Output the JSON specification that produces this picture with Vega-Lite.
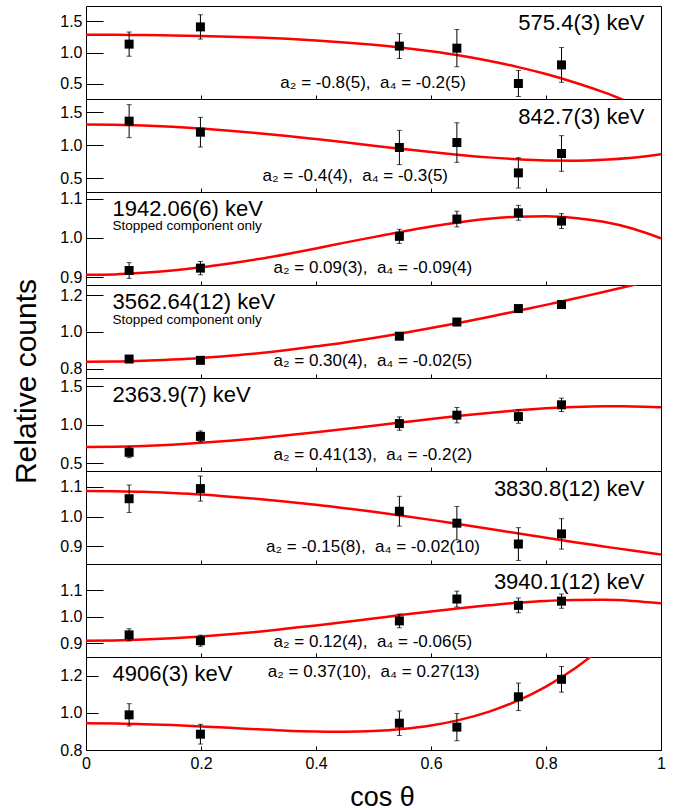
{
  "$schema": "https://vega.github.io/schema/vega-lite/v6.json",
  "background": "white",
  "padding": {"left": 10, "top": 5, "right": 5, "bottom": 5},
  "spacing": 0,
  "bounds": "flush",
  "resolve": {"scale": {"x": "independent", "y": "independent"}},
  "config": {
    "view": {"stroke": "black", "strokeWidth": 1},
    "font": "Liberation Sans",
    "text": {"font": "Liberation Sans", "color": "black"},
    "axis": {
      "domain": false, "grid": false,
      "labelFont": "Liberation Sans", "labelFontSize": 16, "labelColor": "black",
      "labelFlush": false, "labelOverlap": false,
      "tickColor": "black", "tickWidth": 1,
      "titleFont": "Liberation Sans", "titleFontWeight": "normal", "titleColor": "black"
    }
  },
  "datasets": {
    "points": [
      {"panel": 1, "cos": 0.075, "val": 1.135, "err": 0.195},
      {"panel": 1, "cos": 0.199, "val": 1.413, "err": 0.196},
      {"panel": 1, "cos": 0.545, "val": 1.103, "err": 0.2},
      {"panel": 1, "cos": 0.645, "val": 1.07, "err": 0.3},
      {"panel": 1, "cos": 0.752, "val": 0.5, "err": 0.21},
      {"panel": 1, "cos": 0.827, "val": 0.8, "err": 0.28},
      {"panel": 2, "cos": 0.075, "val": 1.364, "err": 0.25},
      {"panel": 2, "cos": 0.199, "val": 1.197, "err": 0.225},
      {"panel": 2, "cos": 0.545, "val": 0.965, "err": 0.26},
      {"panel": 2, "cos": 0.645, "val": 1.04, "err": 0.3},
      {"panel": 2, "cos": 0.752, "val": 0.58, "err": 0.23},
      {"panel": 2, "cos": 0.827, "val": 0.874, "err": 0.27},
      {"panel": 3, "cos": 0.075, "val": 0.917, "err": 0.02},
      {"panel": 3, "cos": 0.199, "val": 0.923, "err": 0.017},
      {"panel": 3, "cos": 0.545, "val": 1.004, "err": 0.018},
      {"panel": 3, "cos": 0.645, "val": 1.048, "err": 0.02},
      {"panel": 3, "cos": 0.752, "val": 1.064, "err": 0.019},
      {"panel": 3, "cos": 0.827, "val": 1.043, "err": 0.019},
      {"panel": 4, "cos": 0.075, "val": 0.853, "err": 0.01},
      {"panel": 4, "cos": 0.199, "val": 0.846, "err": 0.01},
      {"panel": 4, "cos": 0.545, "val": 0.977, "err": 0.012},
      {"panel": 4, "cos": 0.645, "val": 1.054, "err": 0.018},
      {"panel": 4, "cos": 0.752, "val": 1.127, "err": 0.018},
      {"panel": 4, "cos": 0.827, "val": 1.149, "err": 0.016},
      {"panel": 5, "cos": 0.075, "val": 0.643, "err": 0.07},
      {"panel": 5, "cos": 0.199, "val": 0.851, "err": 0.07},
      {"panel": 5, "cos": 0.545, "val": 1.017, "err": 0.087},
      {"panel": 5, "cos": 0.645, "val": 1.126, "err": 0.1},
      {"panel": 5, "cos": 0.752, "val": 1.108, "err": 0.087},
      {"panel": 5, "cos": 0.827, "val": 1.261, "err": 0.087},
      {"panel": 6, "cos": 0.075, "val": 1.06, "err": 0.046},
      {"panel": 6, "cos": 0.199, "val": 1.094, "err": 0.042},
      {"panel": 6, "cos": 0.545, "val": 1.018, "err": 0.05},
      {"panel": 6, "cos": 0.645, "val": 0.978, "err": 0.056},
      {"panel": 6, "cos": 0.752, "val": 0.908, "err": 0.055},
      {"panel": 6, "cos": 0.827, "val": 0.942, "err": 0.051},
      {"panel": 7, "cos": 0.075, "val": 0.931, "err": 0.023},
      {"panel": 7, "cos": 0.199, "val": 0.909, "err": 0.021},
      {"panel": 7, "cos": 0.545, "val": 0.984, "err": 0.026},
      {"panel": 7, "cos": 0.645, "val": 1.067, "err": 0.03},
      {"panel": 7, "cos": 0.752, "val": 1.043, "err": 0.028},
      {"panel": 7, "cos": 0.827, "val": 1.059, "err": 0.027},
      {"panel": 8, "cos": 0.075, "val": 0.989, "err": 0.06},
      {"panel": 8, "cos": 0.199, "val": 0.885, "err": 0.053},
      {"panel": 8, "cos": 0.545, "val": 0.944, "err": 0.066},
      {"panel": 8, "cos": 0.645, "val": 0.923, "err": 0.073},
      {"panel": 8, "cos": 0.752, "val": 1.086, "err": 0.074},
      {"panel": 8, "cos": 0.827, "val": 1.18, "err": 0.069}
    ],
    "fits": [
      {"panel": 1, "cos": 0.0, "val": 1.287}, {"panel": 1, "cos": 0.05, "val": 1.285}, {"panel": 1, "cos": 0.1, "val": 1.282},
      {"panel": 1, "cos": 0.15, "val": 1.276}, {"panel": 1, "cos": 0.2, "val": 1.268}, {"panel": 1, "cos": 0.25, "val": 1.256},
      {"panel": 1, "cos": 0.3, "val": 1.24}, {"panel": 1, "cos": 0.35, "val": 1.22}, {"panel": 1, "cos": 0.4, "val": 1.195},
      {"panel": 1, "cos": 0.45, "val": 1.163}, {"panel": 1, "cos": 0.5, "val": 1.124}, {"panel": 1, "cos": 0.55, "val": 1.077},
      {"panel": 1, "cos": 0.6, "val": 1.019}, {"panel": 1, "cos": 0.65, "val": 0.95}, {"panel": 1, "cos": 0.7, "val": 0.866},
      {"panel": 1, "cos": 0.75, "val": 0.768}, {"panel": 1, "cos": 0.8, "val": 0.652}, {"panel": 1, "cos": 0.85, "val": 0.516},
      {"panel": 1, "cos": 0.9, "val": 0.36}, {"panel": 1, "cos": 0.95, "val": 0.18}, {"panel": 1, "cos": 1.0, "val": 0.0},
      {"panel": 2, "cos": 0.0, "val": 1.313}, {"panel": 2, "cos": 0.05, "val": 1.309}, {"panel": 2, "cos": 0.1, "val": 1.298},
      {"panel": 2, "cos": 0.15, "val": 1.279}, {"panel": 2, "cos": 0.2, "val": 1.253}, {"panel": 2, "cos": 0.25, "val": 1.22},
      {"panel": 2, "cos": 0.3, "val": 1.182}, {"panel": 2, "cos": 0.35, "val": 1.139}, {"panel": 2, "cos": 0.4, "val": 1.092},
      {"panel": 2, "cos": 0.45, "val": 1.043}, {"panel": 2, "cos": 0.5, "val": 0.992}, {"panel": 2, "cos": 0.55, "val": 0.943},
      {"panel": 2, "cos": 0.6, "val": 0.895}, {"panel": 2, "cos": 0.65, "val": 0.852}, {"panel": 2, "cos": 0.7, "val": 0.815},
      {"panel": 2, "cos": 0.75, "val": 0.787}, {"panel": 2, "cos": 0.8, "val": 0.769}, {"panel": 2, "cos": 0.85, "val": 0.765},
      {"panel": 2, "cos": 0.9, "val": 0.778}, {"panel": 2, "cos": 0.95, "val": 0.809}, {"panel": 2, "cos": 1.0, "val": 0.863},
      {"panel": 3, "cos": 0.0, "val": 0.906}, {"panel": 3, "cos": 0.05, "val": 0.907}, {"panel": 3, "cos": 0.1, "val": 0.911},
      {"panel": 3, "cos": 0.15, "val": 0.917}, {"panel": 3, "cos": 0.2, "val": 0.925}, {"panel": 3, "cos": 0.25, "val": 0.935},
      {"panel": 3, "cos": 0.3, "val": 0.946}, {"panel": 3, "cos": 0.35, "val": 0.959}, {"panel": 3, "cos": 0.4, "val": 0.973},
      {"panel": 3, "cos": 0.45, "val": 0.988}, {"panel": 3, "cos": 0.5, "val": 1.002}, {"panel": 3, "cos": 0.55, "val": 1.016},
      {"panel": 3, "cos": 0.6, "val": 1.029}, {"panel": 3, "cos": 0.65, "val": 1.04}, {"panel": 3, "cos": 0.7, "val": 1.049},
      {"panel": 3, "cos": 0.75, "val": 1.054}, {"panel": 3, "cos": 0.8, "val": 1.055}, {"panel": 3, "cos": 0.85, "val": 1.051},
      {"panel": 3, "cos": 0.9, "val": 1.041}, {"panel": 3, "cos": 0.95, "val": 1.024}, {"panel": 3, "cos": 1.0, "val": 0.999},
      {"panel": 4, "cos": 0.0, "val": 0.838}, {"panel": 4, "cos": 0.05, "val": 0.839}, {"panel": 4, "cos": 0.1, "val": 0.843},
      {"panel": 4, "cos": 0.15, "val": 0.85}, {"panel": 4, "cos": 0.2, "val": 0.859}, {"panel": 4, "cos": 0.25, "val": 0.871},
      {"panel": 4, "cos": 0.3, "val": 0.885}, {"panel": 4, "cos": 0.35, "val": 0.902}, {"panel": 4, "cos": 0.4, "val": 0.922},
      {"panel": 4, "cos": 0.45, "val": 0.943}, {"panel": 4, "cos": 0.5, "val": 0.967}, {"panel": 4, "cos": 0.55, "val": 0.993},
      {"panel": 4, "cos": 0.6, "val": 1.021}, {"panel": 4, "cos": 0.65, "val": 1.05}, {"panel": 4, "cos": 0.7, "val": 1.081},
      {"panel": 4, "cos": 0.75, "val": 1.114}, {"panel": 4, "cos": 0.8, "val": 1.147}, {"panel": 4, "cos": 0.85, "val": 1.182},
      {"panel": 4, "cos": 0.9, "val": 1.217}, {"panel": 4, "cos": 0.95, "val": 1.254}, {"panel": 4, "cos": 1.0, "val": 1.29},
      {"panel": 5, "cos": 0.0, "val": 0.713}, {"panel": 5, "cos": 0.05, "val": 0.716}, {"panel": 5, "cos": 0.1, "val": 0.726},
      {"panel": 5, "cos": 0.15, "val": 0.743}, {"panel": 5, "cos": 0.2, "val": 0.766}, {"panel": 5, "cos": 0.25, "val": 0.794},
      {"panel": 5, "cos": 0.3, "val": 0.827}, {"panel": 5, "cos": 0.35, "val": 0.865}, {"panel": 5, "cos": 0.4, "val": 0.905},
      {"panel": 5, "cos": 0.45, "val": 0.947}, {"panel": 5, "cos": 0.5, "val": 0.99}, {"panel": 5, "cos": 0.55, "val": 1.033},
      {"panel": 5, "cos": 0.6, "val": 1.077}, {"panel": 5, "cos": 0.65, "val": 1.118}, {"panel": 5, "cos": 0.7, "val": 1.156},
      {"panel": 5, "cos": 0.75, "val": 1.189}, {"panel": 5, "cos": 0.8, "val": 1.215}, {"panel": 5, "cos": 0.85, "val": 1.233},
      {"panel": 5, "cos": 0.9, "val": 1.242}, {"panel": 5, "cos": 0.95, "val": 1.24}, {"panel": 5, "cos": 1.0, "val": 1.228},
      {"panel": 6, "cos": 0.0, "val": 1.086}, {"panel": 6, "cos": 0.05, "val": 1.085}, {"panel": 6, "cos": 0.1, "val": 1.083},
      {"panel": 6, "cos": 0.15, "val": 1.079}, {"panel": 6, "cos": 0.2, "val": 1.074}, {"panel": 6, "cos": 0.25, "val": 1.067},
      {"panel": 6, "cos": 0.3, "val": 1.059}, {"panel": 6, "cos": 0.35, "val": 1.05}, {"panel": 6, "cos": 0.4, "val": 1.04},
      {"panel": 6, "cos": 0.45, "val": 1.028}, {"panel": 6, "cos": 0.5, "val": 1.016}, {"panel": 6, "cos": 0.55, "val": 1.003},
      {"panel": 6, "cos": 0.6, "val": 0.989}, {"panel": 6, "cos": 0.65, "val": 0.974}, {"panel": 6, "cos": 0.7, "val": 0.959},
      {"panel": 6, "cos": 0.75, "val": 0.944}, {"panel": 6, "cos": 0.8, "val": 0.929}, {"panel": 6, "cos": 0.85, "val": 0.914},
      {"panel": 6, "cos": 0.9, "val": 0.9}, {"panel": 6, "cos": 0.95, "val": 0.886}, {"panel": 6, "cos": 1.0, "val": 0.873},
      {"panel": 7, "cos": 0.0, "val": 0.909}, {"panel": 7, "cos": 0.05, "val": 0.91}, {"panel": 7, "cos": 0.1, "val": 0.913},
      {"panel": 7, "cos": 0.15, "val": 0.918}, {"panel": 7, "cos": 0.2, "val": 0.925}, {"panel": 7, "cos": 0.25, "val": 0.933},
      {"panel": 7, "cos": 0.3, "val": 0.943}, {"panel": 7, "cos": 0.35, "val": 0.955}, {"panel": 7, "cos": 0.4, "val": 0.967},
      {"panel": 7, "cos": 0.45, "val": 0.98}, {"panel": 7, "cos": 0.5, "val": 0.993}, {"panel": 7, "cos": 0.55, "val": 1.007},
      {"panel": 7, "cos": 0.6, "val": 1.02}, {"panel": 7, "cos": 0.65, "val": 1.032}, {"panel": 7, "cos": 0.7, "val": 1.043},
      {"panel": 7, "cos": 0.75, "val": 1.053}, {"panel": 7, "cos": 0.8, "val": 1.06}, {"panel": 7, "cos": 0.85, "val": 1.063},
      {"panel": 7, "cos": 0.9, "val": 1.064}, {"panel": 7, "cos": 0.95, "val": 1.06}, {"panel": 7, "cos": 1.0, "val": 1.051},
      {"panel": 8, "cos": 0.0, "val": 0.944}, {"panel": 8, "cos": 0.05, "val": 0.943}, {"panel": 8, "cos": 0.1, "val": 0.939},
      {"panel": 8, "cos": 0.15, "val": 0.934}, {"panel": 8, "cos": 0.2, "val": 0.927}, {"panel": 8, "cos": 0.25, "val": 0.919},
      {"panel": 8, "cos": 0.3, "val": 0.911}, {"panel": 8, "cos": 0.35, "val": 0.904}, {"panel": 8, "cos": 0.4, "val": 0.9},
      {"panel": 8, "cos": 0.45, "val": 0.898}, {"panel": 8, "cos": 0.5, "val": 0.902}, {"panel": 8, "cos": 0.55, "val": 0.913},
      {"panel": 8, "cos": 0.6, "val": 0.932}, {"panel": 8, "cos": 0.65, "val": 0.962}, {"panel": 8, "cos": 0.7, "val": 1.005},
      {"panel": 8, "cos": 0.75, "val": 1.064}, {"panel": 8, "cos": 0.8, "val": 1.141}, {"panel": 8, "cos": 0.85, "val": 1.238},
      {"panel": 8, "cos": 0.9, "val": 1.36}, {"panel": 8, "cos": 0.95, "val": 1.51}, {"panel": 8, "cos": 1.0, "val": 1.689}
    ]
  },
  "vconcat": [
    {
      "width": 575, "height": 93,
      "layer": [
        {"data": {"name": "fits"}, "transform": [{"filter": "datum.panel == 1"}],
         "mark": {"type": "line", "color": "#ff0000", "strokeWidth": 2.5, "clip": true, "interpolate": "monotone"},
         "encoding": {
           "x": {"field": "cos", "type": "quantitative", "title": null, "scale": {"domain": [0, 1], "nice": false},
                 "axis": {"values": [0, 0.2, 0.4, 0.6, 0.8, 1], "labels": false, "tickSize": -4}},
           "y": {"field": "val", "type": "quantitative", "title": null, "scale": {"domain": [0.25, 1.75], "nice": false, "zero": false},
                 "axis": {"values": [0.5, 1, 1.5], "format": ".1f", "tickSize": -17, "labelPadding": 21}}}},
        {"data": {"name": "points"}, "transform": [{"filter": "datum.panel == 1"}],
         "mark": {"type": "errorbar", "color": "black", "thickness": 1, "ticks": {"size": 5, "thickness": 1, "color": "black"}},
         "encoding": {"x": {"field": "cos", "type": "quantitative", "title": null}, "y": {"field": "val", "type": "quantitative", "title": null}, "yError": {"field": "err"}}},
        {"data": {"name": "points"}, "transform": [{"filter": "datum.panel == 1"}],
         "mark": {"type": "square", "size": 81, "color": "black", "opacity": 1},
         "encoding": {"x": {"field": "cos", "type": "quantitative", "title": null}, "y": {"field": "val", "type": "quantitative", "title": null}}},
        {"data": {"values": [{}]},
         "mark": {"type": "text", "fontSize": 22, "align": "right", "baseline": "alphabetic"},
         "encoding": {"x": {"datum": 0.971}, "y": {"datum": 1.369}, "text": {"value": "575.4(3) keV"}}},
        {"data": {"values": [{}]},
         "mark": {"type": "text", "fontSize": 17, "align": "left", "baseline": "alphabetic"},
         "encoding": {"x": {"datum": 0.338}, "y": {"datum": 0.431}, "text": {"value": "a₂ = -0.8(5),\u00a0 a₄ = -0.2(5)"}}}
      ]
    },
    {
      "width": 575, "height": 93,
      "layer": [
        {"data": {"name": "fits"}, "transform": [{"filter": "datum.panel == 2"}],
         "mark": {"type": "line", "color": "#ff0000", "strokeWidth": 2.5, "clip": true, "interpolate": "monotone"},
         "encoding": {
           "x": {"field": "cos", "type": "quantitative", "title": null, "scale": {"domain": [0, 1], "nice": false},
                 "axis": {"values": [0, 0.2, 0.4, 0.6, 0.8, 1], "labels": false, "tickSize": -4}},
           "y": {"field": "val", "type": "quantitative", "title": null, "scale": {"domain": [0.29, 1.70], "nice": false, "zero": false},
                 "axis": {"values": [0.5, 1, 1.5], "format": ".1f", "tickSize": -17, "labelPadding": 21}}}},
        {"data": {"name": "points"}, "transform": [{"filter": "datum.panel == 2"}],
         "mark": {"type": "errorbar", "color": "black", "thickness": 1, "ticks": {"size": 5, "thickness": 1, "color": "black"}},
         "encoding": {"x": {"field": "cos", "type": "quantitative", "title": null}, "y": {"field": "val", "type": "quantitative", "title": null}, "yError": {"field": "err"}}},
        {"data": {"name": "points"}, "transform": [{"filter": "datum.panel == 2"}],
         "mark": {"type": "square", "size": 81, "color": "black", "opacity": 1},
         "encoding": {"x": {"field": "cos", "type": "quantitative", "title": null}, "y": {"field": "val", "type": "quantitative", "title": null}}},
        {"data": {"values": [{}]},
         "mark": {"type": "text", "fontSize": 22, "align": "right", "baseline": "alphabetic"},
         "encoding": {"x": {"datum": 0.971}, "y": {"datum": 1.32}, "text": {"value": "842.7(3) keV"}}},
        {"data": {"values": [{}]},
         "mark": {"type": "text", "fontSize": 17, "align": "left", "baseline": "alphabetic"},
         "encoding": {"x": {"datum": 0.307}, "y": {"datum": 0.459}, "text": {"value": "a₂ = -0.4(4),\u00a0 a₄ = -0.3(5)"}}}
      ]
    },
    {
      "width": 575, "height": 93,
      "layer": [
        {"data": {"name": "fits"}, "transform": [{"filter": "datum.panel == 3"}],
         "mark": {"type": "line", "color": "#ff0000", "strokeWidth": 2.5, "clip": true, "interpolate": "monotone"},
         "encoding": {
           "x": {"field": "cos", "type": "quantitative", "title": null, "scale": {"domain": [0, 1], "nice": false},
                 "axis": {"values": [0, 0.2, 0.4, 0.6, 0.8, 1], "labels": false, "tickSize": -4}},
           "y": {"field": "val", "type": "quantitative", "title": null, "scale": {"domain": [0.88, 1.117], "nice": false, "zero": false},
                 "axis": {"values": [0.9, 1, 1.1], "format": ".1f", "tickSize": -17, "labelPadding": 21}}}},
        {"data": {"name": "points"}, "transform": [{"filter": "datum.panel == 3"}],
         "mark": {"type": "errorbar", "color": "black", "thickness": 1, "ticks": {"size": 5, "thickness": 1, "color": "black"}},
         "encoding": {"x": {"field": "cos", "type": "quantitative", "title": null}, "y": {"field": "val", "type": "quantitative", "title": null}, "yError": {"field": "err"}}},
        {"data": {"name": "points"}, "transform": [{"filter": "datum.panel == 3"}],
         "mark": {"type": "square", "size": 81, "color": "black", "opacity": 1},
         "encoding": {"x": {"field": "cos", "type": "quantitative", "title": null}, "y": {"field": "val", "type": "quantitative", "title": null}}},
        {"data": {"values": [{}]},
         "mark": {"type": "text", "fontSize": 22, "align": "left", "baseline": "alphabetic"},
         "encoding": {"x": {"datum": 0.046}, "y": {"datum": 1.055}, "text": {"value": "1942.06(6) keV"}}},
        {"data": {"values": [{}]},
         "mark": {"type": "text", "fontSize": 13.5, "align": "left", "baseline": "alphabetic"},
         "encoding": {"x": {"datum": 0.046}, "y": {"datum": 1.019}, "text": {"value": "Stopped component only"}}},
        {"data": {"values": [{}]},
         "mark": {"type": "text", "fontSize": 17, "align": "left", "baseline": "alphabetic"},
         "encoding": {"x": {"datum": 0.326}, "y": {"datum": 0.911}, "text": {"value": "a₂ = 0.09(3),\u00a0 a₄ = -0.09(4)"}}}
      ]
    },
    {
      "width": 575, "height": 93,
      "layer": [
        {"data": {"name": "fits"}, "transform": [{"filter": "datum.panel == 4"}],
         "mark": {"type": "line", "color": "#ff0000", "strokeWidth": 2.5, "clip": true, "interpolate": "monotone"},
         "encoding": {
           "x": {"field": "cos", "type": "quantitative", "title": null, "scale": {"domain": [0, 1], "nice": false},
                 "axis": {"values": [0, 0.2, 0.4, 0.6, 0.8, 1], "labels": false, "tickSize": -4}},
           "y": {"field": "val", "type": "quantitative", "title": "Relative counts", "scale": {"domain": [0.75, 1.255], "nice": false, "zero": false},
                 "axis": {"values": [0.8, 1, 1.2], "format": ".1f", "tickSize": -17, "labelPadding": 21,
                          "titleFontSize": 30, "titleX": -51, "titleY": 96,
                          "titleAngle": 270, "titleAlign": "center", "titleBaseline": "alphabetic"}}}},
        {"data": {"name": "points"}, "transform": [{"filter": "datum.panel == 4"}],
         "mark": {"type": "errorbar", "color": "black", "thickness": 1, "ticks": {"size": 5, "thickness": 1, "color": "black"}},
         "encoding": {"x": {"field": "cos", "type": "quantitative", "title": null}, "y": {"field": "val", "type": "quantitative", "title": "Relative counts"}, "yError": {"field": "err"}}},
        {"data": {"name": "points"}, "transform": [{"filter": "datum.panel == 4"}],
         "mark": {"type": "square", "size": 81, "color": "black", "opacity": 1},
         "encoding": {"x": {"field": "cos", "type": "quantitative", "title": null}, "y": {"field": "val", "type": "quantitative", "title": "Relative counts"}}},
        {"data": {"values": [{}]},
         "mark": {"type": "text", "fontSize": 22, "align": "left", "baseline": "alphabetic"},
         "encoding": {"x": {"datum": 0.046}, "y": {"datum": 1.126}, "text": {"value": "3562.64(12) keV"}}},
        {"data": {"values": [{}]},
         "mark": {"type": "text", "fontSize": 13.5, "align": "left", "baseline": "alphabetic"},
         "encoding": {"x": {"datum": 0.046}, "y": {"datum": 1.041}, "text": {"value": "Stopped component only"}}},
        {"data": {"values": [{}]},
         "mark": {"type": "text", "fontSize": 17, "align": "left", "baseline": "alphabetic"},
         "encoding": {"x": {"datum": 0.326}, "y": {"datum": 0.814}, "text": {"value": "a₂ = 0.30(4),\u00a0 a₄ = -0.02(5)"}}}
      ]
    },
    {
      "width": 575, "height": 93,
      "layer": [
        {"data": {"name": "fits"}, "transform": [{"filter": "datum.panel == 5"}],
         "mark": {"type": "line", "color": "#ff0000", "strokeWidth": 2.5, "clip": true, "interpolate": "monotone"},
         "encoding": {
           "x": {"field": "cos", "type": "quantitative", "title": null, "scale": {"domain": [0, 1], "nice": false},
                 "axis": {"values": [0, 0.2, 0.4, 0.6, 0.8, 1], "labels": false, "tickSize": -4}},
           "y": {"field": "val", "type": "quantitative", "title": null, "scale": {"domain": [0.40, 1.61], "nice": false, "zero": false},
                 "axis": {"values": [0.5, 1, 1.5], "format": ".1f", "tickSize": -17, "labelPadding": 21}}}},
        {"data": {"name": "points"}, "transform": [{"filter": "datum.panel == 5"}],
         "mark": {"type": "errorbar", "color": "black", "thickness": 1, "ticks": {"size": 5, "thickness": 1, "color": "black"}},
         "encoding": {"x": {"field": "cos", "type": "quantitative", "title": null}, "y": {"field": "val", "type": "quantitative", "title": null}, "yError": {"field": "err"}}},
        {"data": {"name": "points"}, "transform": [{"filter": "datum.panel == 5"}],
         "mark": {"type": "square", "size": 81, "color": "black", "opacity": 1},
         "encoding": {"x": {"field": "cos", "type": "quantitative", "title": null}, "y": {"field": "val", "type": "quantitative", "title": null}}},
        {"data": {"values": [{}]},
         "mark": {"type": "text", "fontSize": 22, "align": "left", "baseline": "alphabetic"},
         "encoding": {"x": {"datum": 0.046}, "y": {"datum": 1.297}, "text": {"value": "2363.9(7) keV"}}},
        {"data": {"values": [{}]},
         "mark": {"type": "text", "fontSize": 17, "align": "left", "baseline": "alphabetic"},
         "encoding": {"x": {"datum": 0.326}, "y": {"datum": 0.537}, "text": {"value": "a₂ = 0.41(13),\u00a0 a₄ = -0.2(2)"}}}
      ]
    },
    {
      "width": 575, "height": 93,
      "layer": [
        {"data": {"name": "fits"}, "transform": [{"filter": "datum.panel == 6"}],
         "mark": {"type": "line", "color": "#ff0000", "strokeWidth": 2.5, "clip": true, "interpolate": "monotone"},
         "encoding": {
           "x": {"field": "cos", "type": "quantitative", "title": null, "scale": {"domain": [0, 1], "nice": false},
                 "axis": {"values": [0, 0.2, 0.4, 0.6, 0.8, 1], "labels": false, "tickSize": -4}},
           "y": {"field": "val", "type": "quantitative", "title": null, "scale": {"domain": [0.841, 1.153], "nice": false, "zero": false},
                 "axis": {"values": [0.9, 1, 1.1], "format": ".1f", "tickSize": -17, "labelPadding": 21}}}},
        {"data": {"name": "points"}, "transform": [{"filter": "datum.panel == 6"}],
         "mark": {"type": "errorbar", "color": "black", "thickness": 1, "ticks": {"size": 5, "thickness": 1, "color": "black"}},
         "encoding": {"x": {"field": "cos", "type": "quantitative", "title": null}, "y": {"field": "val", "type": "quantitative", "title": null}, "yError": {"field": "err"}}},
        {"data": {"name": "points"}, "transform": [{"filter": "datum.panel == 6"}],
         "mark": {"type": "square", "size": 81, "color": "black", "opacity": 1},
         "encoding": {"x": {"field": "cos", "type": "quantitative", "title": null}, "y": {"field": "val", "type": "quantitative", "title": null}}},
        {"data": {"values": [{}]},
         "mark": {"type": "text", "fontSize": 22, "align": "right", "baseline": "alphabetic"},
         "encoding": {"x": {"datum": 0.971}, "y": {"datum": 1.069}, "text": {"value": "3830.8(12) keV"}}},
        {"data": {"values": [{}]},
         "mark": {"type": "text", "fontSize": 17, "align": "left", "baseline": "alphabetic"},
         "encoding": {"x": {"datum": 0.313}, "y": {"datum": 0.882}, "text": {"value": "a₂ = -0.15(8),\u00a0 a₄ = -0.02(10)"}}}
      ]
    },
    {
      "width": 575, "height": 93,
      "layer": [
        {"data": {"name": "fits"}, "transform": [{"filter": "datum.panel == 7"}],
         "mark": {"type": "line", "color": "#ff0000", "strokeWidth": 2.5, "clip": true, "interpolate": "monotone"},
         "encoding": {
           "x": {"field": "cos", "type": "quantitative", "title": null, "scale": {"domain": [0, 1], "nice": false},
                 "axis": {"values": [0, 0.2, 0.4, 0.6, 0.8, 1], "labels": false, "tickSize": -4}},
           "y": {"field": "val", "type": "quantitative", "title": null, "scale": {"domain": [0.847, 1.2], "nice": false, "zero": false},
                 "axis": {"values": [0.9, 1, 1.1], "format": ".1f", "tickSize": -17, "labelPadding": 21}}}},
        {"data": {"name": "points"}, "transform": [{"filter": "datum.panel == 7"}],
         "mark": {"type": "errorbar", "color": "black", "thickness": 1, "ticks": {"size": 5, "thickness": 1, "color": "black"}},
         "encoding": {"x": {"field": "cos", "type": "quantitative", "title": null}, "y": {"field": "val", "type": "quantitative", "title": null}, "yError": {"field": "err"}}},
        {"data": {"name": "points"}, "transform": [{"filter": "datum.panel == 7"}],
         "mark": {"type": "square", "size": 81, "color": "black", "opacity": 1},
         "encoding": {"x": {"field": "cos", "type": "quantitative", "title": null}, "y": {"field": "val", "type": "quantitative", "title": null}}},
        {"data": {"values": [{}]},
         "mark": {"type": "text", "fontSize": 22, "align": "right", "baseline": "alphabetic"},
         "encoding": {"x": {"datum": 0.971}, "y": {"datum": 1.107}, "text": {"value": "3940.1(12) keV"}}},
        {"data": {"values": [{}]},
         "mark": {"type": "text", "fontSize": 17, "align": "left", "baseline": "alphabetic"},
         "encoding": {"x": {"datum": 0.326}, "y": {"datum": 0.885}, "text": {"value": "a₂ = 0.12(4),\u00a0 a₄ = -0.06(5)"}}}
      ]
    },
    {
      "width": 575, "height": 93,
      "layer": [
        {"data": {"name": "fits"}, "transform": [{"filter": "datum.panel == 8"}],
         "mark": {"type": "line", "color": "#ff0000", "strokeWidth": 2.5, "clip": true, "interpolate": "monotone"},
         "encoding": {
           "x": {"field": "cos", "type": "quantitative", "title": "cos θ", "scale": {"domain": [0, 1], "nice": false},
                 "axis": {"values": [0, 0.2, 0.4, 0.6, 0.8, 1], "format": "~g", "tickSize": -4, "labelPadding": 9,
                          "titleFontSize": 27, "titleX": 296, "titleY": 55,
                          "titleAlign": "center", "titleBaseline": "alphabetic"}},
           "y": {"field": "val", "type": "quantitative", "title": null, "scale": {"domain": [0.8, 1.3], "nice": false, "zero": false},
                 "axis": {"values": [0.8, 1, 1.2], "format": ".1f", "tickSize": -12, "labelPadding": 16}}}},
        {"data": {"name": "points"}, "transform": [{"filter": "datum.panel == 8"}],
         "mark": {"type": "errorbar", "color": "black", "thickness": 1, "ticks": {"size": 5, "thickness": 1, "color": "black"}},
         "encoding": {"x": {"field": "cos", "type": "quantitative", "title": "cos θ"}, "y": {"field": "val", "type": "quantitative", "title": null}, "yError": {"field": "err"}}},
        {"data": {"name": "points"}, "transform": [{"filter": "datum.panel == 8"}],
         "mark": {"type": "square", "size": 81, "color": "black", "opacity": 1},
         "encoding": {"x": {"field": "cos", "type": "quantitative", "title": "cos θ"}, "y": {"field": "val", "type": "quantitative", "title": null}}},
        {"data": {"values": [{}]},
         "mark": {"type": "text", "fontSize": 22, "align": "left", "baseline": "alphabetic"},
         "encoding": {"x": {"datum": 0.046}, "y": {"datum": 1.169}, "text": {"value": "4906(3) keV"}}},
        {"data": {"values": [{}]},
         "mark": {"type": "text", "fontSize": 17, "align": "left", "baseline": "alphabetic"},
         "encoding": {"x": {"datum": 0.316}, "y": {"datum": 1.191}, "text": {"value": "a₂ = 0.37(10),\u00a0 a₄ = 0.27(13)"}}}
      ]
    }
  ]
}
